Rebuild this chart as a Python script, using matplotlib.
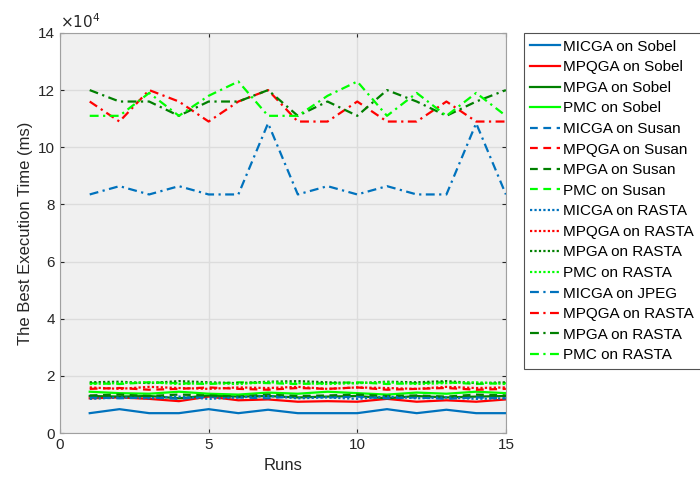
import matplotlib
matplotlib.use('Agg')
import matplotlib.pyplot as plt
import numpy as np

runs = np.arange(1, 16)

# execution times, x1e4 ms
micga_sobel = [0.70, 0.84, 0.70, 0.70, 0.84, 0.70, 0.82, 0.70, 0.70, 0.70, 0.84, 0.70, 0.82, 0.70, 0.70]
mpqga_sobel = [1.22, 1.25, 1.20, 1.12, 1.28, 1.15, 1.18, 1.10, 1.12, 1.10, 1.20, 1.10, 1.15, 1.10, 1.18]
mpga_sobel = [1.30, 1.28, 1.30, 1.22, 1.32, 1.28, 1.30, 1.25, 1.28, 1.30, 1.22, 1.30, 1.25, 1.28, 1.30]
pmc_sobel = [1.45, 1.40, 1.38, 1.45, 1.38, 1.35, 1.42, 1.38, 1.45, 1.40, 1.35, 1.42, 1.38, 1.45, 1.40]
micga_susan = [1.25, 1.22, 1.25, 1.20, 1.28, 1.25, 1.22, 1.30, 1.25, 1.28, 1.22, 1.25, 1.20, 1.25, 1.22]
mpqga_susan = [1.55, 1.58, 1.52, 1.55, 1.60, 1.55, 1.52, 1.58, 1.55, 1.60, 1.52, 1.55, 1.58, 1.52, 1.55]
mpga_susan = [1.32, 1.35, 1.30, 1.35, 1.32, 1.28, 1.35, 1.30, 1.32, 1.35, 1.30, 1.32, 1.28, 1.35, 1.32]
pmc_susan = [1.75, 1.72, 1.78, 1.75, 1.72, 1.78, 1.75, 1.72, 1.75, 1.78, 1.72, 1.75, 1.78, 1.72, 1.75]
micga_rasta = [1.20, 1.25, 1.22, 1.28, 1.20, 1.25, 1.30, 1.22, 1.25, 1.20, 1.28, 1.22, 1.25, 1.20, 1.22]
mpqga_rasta = [1.60, 1.55, 1.62, 1.58, 1.55, 1.60, 1.58, 1.62, 1.55, 1.60, 1.58, 1.55, 1.62, 1.58, 1.60]
mpga_rasta = [1.78, 1.80, 1.75, 1.82, 1.78, 1.75, 1.80, 1.82, 1.78, 1.75, 1.80, 1.78, 1.82, 1.75, 1.78]
pmc_rasta = [1.72, 1.75, 1.78, 1.72, 1.75, 1.72, 1.78, 1.75, 1.72, 1.75, 1.78, 1.72, 1.75, 1.78, 1.72]
micga_jpeg = [8.35, 8.64, 8.35, 8.64, 8.35, 8.35, 10.84, 8.35, 8.64, 8.35, 8.64, 8.35, 8.35, 10.84, 8.35]
mpqga_jpeg = [11.6, 10.9, 12.0, 11.6, 10.9, 11.6, 12.0, 10.9, 10.9, 11.6, 10.9, 10.9, 11.6, 10.9, 10.9]
mpga_jpeg = [12.0, 11.6, 11.6, 11.1, 11.6, 11.6, 12.0, 11.1, 11.6, 11.1, 12.0, 11.6, 11.1, 11.6, 12.0]
pmc_jpeg = [11.1, 11.1, 11.9, 11.1, 11.8, 12.3, 11.1, 11.1, 11.8, 12.3, 11.1, 11.9, 11.1, 11.9, 11.1]

blue = '#0072BD'
red = '#FF0000'
dgreen = '#008000'
lime = '#00FF00'

# matlab-like dash patterns
solid = '-'
dashed = (0, (3.5, 2.5))
dotted = (0, (1, 1))
dashdot = (0, (4, 2, 1, 2))

series = [
    (micga_sobel, blue, solid, 'MICGA on Sobel'),
    (mpqga_sobel, red, solid, 'MPQGA on Sobel'),
    (mpga_sobel, dgreen, solid, 'MPGA on Sobel'),
    (pmc_sobel, lime, solid, 'PMC on Sobel'),
    (micga_susan, blue, dashed, 'MICGA on Susan'),
    (mpqga_susan, red, dashed, 'MPQGA on Susan'),
    (mpga_susan, dgreen, dashed, 'MPGA on Susan'),
    (pmc_susan, lime, dashed, 'PMC on Susan'),
    (micga_rasta, blue, dotted, 'MICGA on RASTA'),
    (mpqga_rasta, red, dotted, 'MPQGA on RASTA'),
    (mpga_rasta, dgreen, dotted, 'MPGA on RASTA'),
    (pmc_rasta, lime, dotted, 'PMC on RASTA'),
    (micga_jpeg, blue, dashdot, 'MICGA on JPEG'),
    (mpqga_jpeg, red, dashdot, 'MPQGA on RASTA'),
    (mpga_jpeg, dgreen, dashdot, 'MPGA on RASTA'),
    (pmc_jpeg, lime, dashdot, 'PMC on RASTA'),
]

plt.rcParams['font.family'] = ['Liberation Sans', 'DejaVu Sans']

fig = plt.figure(figsize=(7, 4.84), dpi=100)
ax = fig.add_axes([0.0857, 0.105, 0.637, 0.827])
ax.set_facecolor('#F0F0F0')

for vals, col, ls, lab in series:
    ax.plot(runs, vals, color=col, linestyle=ls, linewidth=1.6, label=lab)

ax.set_xlim(0, 15)
ax.set_ylim(0, 14)
ax.set_xticks([0, 5, 10, 15])
ax.set_yticks(range(0, 15, 2))
ax.grid(True, color='#DCDCDC', linewidth=1)
ax.set_axisbelow(True)
ax.tick_params(direction='in', length=3, colors='#262626', labelsize=11, top=True, right=True,
               labeltop=False, labelright=False)
for sp in ax.spines.values():
    sp.set_color('#A0A0A0')
ax.text(0, 1.005, r'$\times10^4$', transform=ax.transAxes, fontsize=11, color='#262626',
        va='bottom', ha='left')
ax.set_xlabel('Runs', fontsize=12, color='#262626')
ax.set_ylabel('The Best Execution Time (ms)', fontsize=12, color='#262626')

leg = fig.legend(loc='upper left', bbox_to_anchor=(0.748, 0.932), fontsize=11,
                 frameon=True, fancybox=False, handlelength=1.95, handletextpad=0.2,
                 labelspacing=0.43, borderpad=0.45, borderaxespad=0)
leg.get_frame().set_edgecolor('#262626')
leg.get_frame().set_linewidth(0.8)

fig.savefig('out.png', dpi=100)
